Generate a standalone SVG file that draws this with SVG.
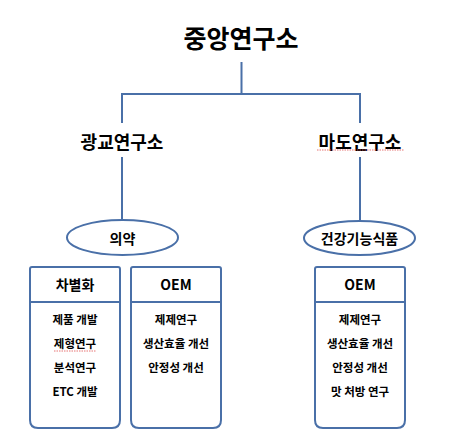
<svg xmlns="http://www.w3.org/2000/svg" width="460" height="443" viewBox="0 0 460 443">
<style>
.ln{fill:none;stroke:#4a70a8;stroke-width:2}
.sh{fill:#fff;stroke:#4a70a8;stroke-width:2}
text{font-family:"Malgun Gothic","Noto Sans CJK KR","Noto Sans",sans-serif;fill:#000;text-anchor:middle;dominant-baseline:central;font-weight:bold}
.t0{font-size:25px}
.t1{font-size:18px}
.t2{font-size:14px}
.t3{font-size:11.5px}
.sq{fill:none;stroke:#e05050;stroke-width:0.8;stroke-dasharray:1.5 1}
</style>
<rect width="460" height="443" fill="#fff"/>
<g id="connectors">
<path class="ln" d="M241.5 62V94M122 123V94H360V123"/>
<path class="ln" d="M122 157V220"/>
<path class="ln" d="M360 157V220"/>
</g>
<g id="n-central"><text class="t0" x="241" y="37">중앙연구소</text></g>
<g id="n-gwanggyo"><text class="t1" x="122" y="141">광교연구소</text></g>
<g id="n-mado"><text class="t1" x="360" y="141">마도연구소</text><path class="sq" d="M317 150H404"/></g>
<g id="n-pharma"><ellipse class="sh" cx="122.5" cy="237.5" rx="55.5" ry="17.5"/><text class="t2" x="122.5" y="238">의약</text></g>
<g id="n-health"><ellipse class="sh" cx="359.5" cy="238" rx="55.5" ry="17"/><text class="t2" x="359.5" y="238">건강기능식품</text></g>
<g id="n-diff">
<path class="sh" d="M30 302V269Q30 267 32 267H118Q120 267 120 269V302Z"/>
<path class="sh" d="M30 302H120V420Q120 428 112 428H38Q30 428 30 420Z"/>
<text class="t2" x="75" y="284">차별화</text>
<text class="t3" x="75" y="319">제품 개발</text>
<text class="t3" x="75" y="343">제형연구</text><path class="sq" d="M54 351H96"/>
<text class="t3" x="75" y="367">분석연구</text>
<text class="t3" x="75" y="391">ETC 개발</text>
</g>
<g id="n-oem1">
<path class="sh" d="M131 302V269Q131 267 133 267H219Q221 267 221 269V302Z"/>
<path class="sh" d="M131 302H221V420Q221 428 213 428H139Q131 428 131 420Z"/>
<text class="t2" x="176" y="284">OEM</text>
<text class="t3" x="176" y="319">제제연구</text>
<text class="t3" x="176" y="343">생산효율 개선</text>
<text class="t3" x="176" y="367">안정성 개선</text>
</g>
<g id="n-oem2">
<path class="sh" d="M315 302V269Q315 267 317 267H403Q405 267 405 269V302Z"/>
<path class="sh" d="M315 302H405V420Q405 428 397 428H323Q315 428 315 420Z"/>
<text class="t2" x="360" y="284">OEM</text>
<text class="t3" x="360" y="319">제제연구</text>
<text class="t3" x="360" y="343">생산효율 개선</text>
<text class="t3" x="360" y="367">안정성 개선</text>
<text class="t3" x="360" y="391">맛 처방 연구</text>
</g>
</svg>
